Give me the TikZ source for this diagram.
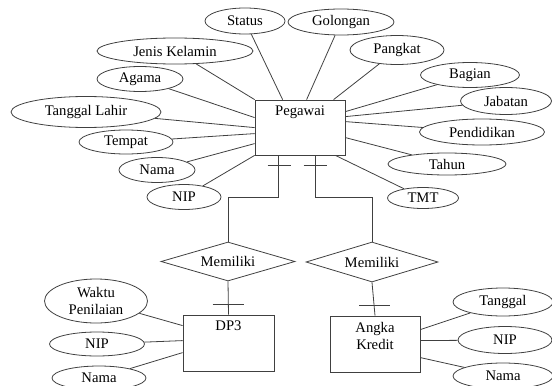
\documentclass[tikz,border=0pt]{standalone}
\usepackage{fontspec}
\setmainfont{Liberation Serif}
\usetikzlibrary{shapes.geometric,calc}

\begin{document}
\begin{tikzpicture}[x=0.75pt,y=-0.75pt,
   font=\fontsize{11}{12.75}\selectfont,
   every path/.style={draw=black!75,line width=0.6pt},
   sz/.style 2 args={minimum width=#1*0.75pt,minimum height=#2*0.75pt},
   attr/.style={ellipse,draw,inner sep=0pt},
   ent/.style={rectangle,draw,inner sep=0pt},
   rel/.style={diamond,draw,inner sep=0pt,aspect=3.4}]
\path[use as bounding box,draw=none] (0,0) rectangle (552,385);

% entities
\node[ent,sz={90}{55},label={[anchor=north,inner sep=4.5pt]north:Pegawai}] (peg) at (300,127.5) {};
\node[ent,sz={91}{56},label={[anchor=north,inner sep=4.5pt]north:DP3}] (dp3) at (228.5,343) {};
\node[ent,sz={90}{56},label={[anchor=north,inner sep=4.5pt,align=center]north:Angka\\Kredit}] (ak) at (375,344) {};

% relations
\node[rel,sz={134}{39}] (mem1) at (228,261.5) {Memiliki};
\node[rel,sz={132}{40}] (mem2) at (372,262) {Memiliki};

% attributes Pegawai
\node[attr,sz={80}{26}]  (status)  at (245,21)  {Status};
\node[attr,sz={106}{26}] (gol)     at (341,22)  {Golongan};
\node[attr,sz={156}{26}] (jk)      at (175,51)  {Jenis Kelamin};
\node[attr,sz={86}{25}]  (agama)   at (140,79)  {Agama};
\node[attr,sz={150}{31}] (tgllhr)  at (86,112)  {Tanggal Lahir};
\node[attr,sz={94}{24}]  (tempat)  at (126,142) {Tempat};
\node[attr,sz={76}{25}]  (nama)    at (157,170) {Nama};
\node[attr,sz={74}{25}]  (nip)     at (184,197) {NIP};
\node[attr,sz={94}{29}]  (pangkat) at (397,50)  {Pangkat};
\node[attr,sz={99}{25}]  (bagian)  at (470,75)  {Bagian};
\node[attr,sz={91}{27}]  (jabatan) at (506,101) {Jabatan};
\node[attr,sz={125}{26}] (pend)    at (482,132) {Pendidikan};
\node[attr,sz={118}{22}] (tahun)   at (447,164) {Tahun};
\node[attr,sz={71}{21}]  (tmt)     at (423,198) {TMT};

% attributes DP3
\node[attr,sz={103}{44},align=center] (waktu) at (96,301) {Waktu\\Penilaian};
\node[attr,sz={95}{24}]  (nipdp)   at (97,344)  {NIP};
\node[attr,sz={94}{24}]  (namadp)  at (99,378)  {Nama};

% attributes Angka Kredit
\node[attr,sz={100}{28}] (tgl)     at (503,302) {Tanggal};
\node[attr,sz={94}{27}]  (nipak)   at (505,340) {NIP};
\node[attr,sz={100}{26}] (namaak)  at (503,376) {Nama};

\draw (status) -- ($(peg.north west)+(28,0)$);
\draw (gol) -- ($(peg.north west)+(52,0)$);
\draw (pangkat) -- ($(peg.north west)+(79,0)$);
\draw (jk) -- (peg.north west);
\draw (agama) -- ($(peg.north west)+(0,18)$);
\draw (tgllhr) -- ($(peg.north west)+(0,28)$);
\draw (tempat) -- ($(peg.north west)+(0,34)$);
\draw (nama) -- ($(peg.north west)+(0,44)$);
\draw (nip) -- (peg.south west);
\draw (bagian) -- ($(peg.north east)+(0,12)$);
\draw (jabatan) -- ($(peg.north east)+(0,17)$);
\draw (pend) -- ($(peg.north east)+(0,22)$);
\draw (tahun) -- ($(peg.north east)+(0,38)$);
\draw (tmt) -- ($(peg.south east)+(-10,0)$);

\draw (waktu) -- ($(dp3.north west)+(0,11)$);
\draw (nipdp) -- ($(dp3.north west)+(0,26)$);
\draw (namadp) -- ($(dp3.north west)+(0,38)$);
\draw (tgl) -- ($(ak.north east)+(0,14)$);
\draw (nipak) -- ($(ak.north east)+(0,25)$);
\draw (namaak) -- ($(ak.north east)+(0,42)$);

% relationships
\coordinate (p1) at ($(peg.south west)+(24,0)$);
\coordinate (p2) at ($(peg.south west)+(61,0)$);
\draw (p1) -- ++(0,42) -| (mem1.north);
\draw (p2) -- ++(0,42) -| (mem2.north);
\draw ([shift={(-11,10)}]p1) -- ++(23,0);
\draw ([shift={(-12,10)}]p2) -- ++(23,0);
\draw (mem1.south) -- (dp3.north);
\draw (mem2.south) -- (ak.north);
\draw ([shift={(-16,-10)}]dp3.north) -- ++(31,0);
\draw ([shift={(-16,-10)}]ak.north) -- ++(31,0);
\end{tikzpicture}
\end{document}
